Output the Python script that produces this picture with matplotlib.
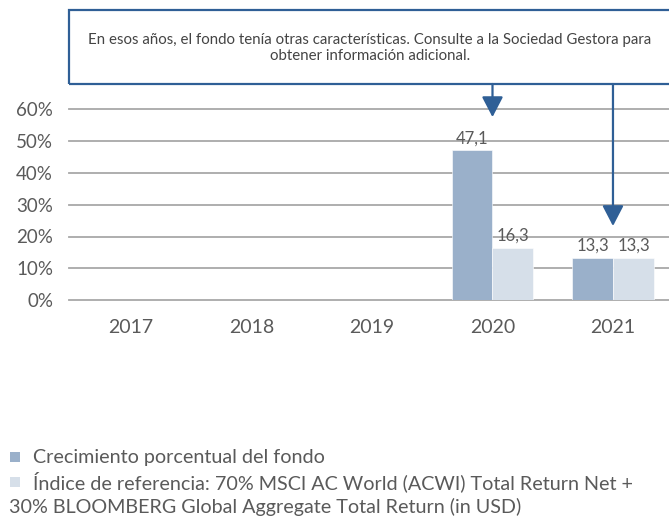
import matplotlib
matplotlib.use("Agg")
import matplotlib.pyplot as plt
from matplotlib.patches import Rectangle
import numpy as np

years = ["2017", "2018", "2019", "2020", "2021"]
fund = [np.nan, np.nan, np.nan, 47.1, 13.3]
bench = [np.nan, np.nan, np.nan, 16.3, 13.3]
yticks = [0, 10, 20, 30, 40, 50, 60]
ytick_labels = ["0%", "10%", "20%", "30%", "40%", "50%", "60%"]
fund_label = "Crecimiento porcentual del fondo"
bench_label_1 = "Índice de referencia: 70% MSCI AC World (ACWI) Total Return Net +"
bench_label_2 = "30% BLOOMBERG Global Aggregate Total Return (in USD)"
note_text = ("En esos años, el fondo tenía otras características. Consulte a la Sociedad Gestora para\n"
             "obtener información adicional.")
arrow_years = ["2020", "2021"]
arrow_tips = [57.6, 23.3]

plt.rcParams['font.family'] = ['Lato', 'DejaVu Sans']

C_FUND = "#9AB0CA"
C_BENCH = "#D6DFE9"
C_BLUE = "#2F5F96"
C_TEXT = "#5A5A5A"
C_GRID = "#A8A8A8"

W, H = 669, 520
fig = plt.figure(figsize=(W / 100, H / 100), dpi=100)
ax = fig.add_axes([69 / W, 1 - 300 / H, 600 / W, 190.5 / H])

x = np.arange(len(years))
bw = 0.34
b1 = ax.bar(x - bw / 2, fund, bw, color=C_FUND, edgecolor="white", linewidth=0.4, zorder=3)
b2 = ax.bar(x + bw / 2, bench, bw, color=C_BENCH, edgecolor="white", linewidth=0.4, zorder=3)

def fmt(v):
    return f"{v:.1f}".replace(".", ",")

for bars, vals in ((b1, fund), (b2, bench)):
    for rect, v in zip(bars, vals):
        if not np.isnan(v):
            ax.annotate(fmt(v), (rect.get_x() + rect.get_width() / 2, v),
                        xytext=(0, 3), textcoords="offset points",
                        ha="center", va="bottom", fontsize=12, color=C_TEXT,
                        zorder=5)

ax.set_xlim(-0.515, 4.465)
ax.set_ylim(0, 60)
ax.set_yticks(yticks)
ax.set_yticklabels(ytick_labels)
ax.set_xticks(x)
ax.set_xticklabels(years)
ax.tick_params(axis="y", length=0, pad=11.5, labelsize=13.5, labelcolor=C_TEXT)
ax.tick_params(axis="x", length=0, pad=14, labelsize=14, labelcolor=C_TEXT)
for s in ax.spines.values():
    s.set_visible(False)
ax.yaxis.grid(True, color=C_GRID, linewidth=1.3, zorder=1)
ax.set_axisbelow(True)
for gl in ax.get_ygridlines():
    gl.set_clip_on(False)

# Note box
box_bottom = 1 - 84 / H
box_top = 1 - 10 / H
fig.add_artist(Rectangle((69 / W, box_bottom), 1.0, box_top - box_bottom,
                         transform=fig.transFigure, fill=False,
                         edgecolor=C_BLUE, linewidth=1.6))
fig.text(370 / W, 1 - 48 / H, note_text, ha="center", va="center",
         fontsize=10.8, color="#444444", linespacing=1.1)

# Arrows
for yr, tip in zip(arrow_years, arrow_tips):
    xi = years.index(yr)
    ax.annotate("", xy=(xi, tip), xycoords="data",
                xytext=(xi, box_bottom), textcoords=("data", "figure fraction"),
                arrowprops=dict(arrowstyle="-|>,head_length=1.25,head_width=0.65",
                                color=C_BLUE, lw=1.6, shrinkA=0, shrinkB=0),
                annotation_clip=False, zorder=6)

# Legend
sq = 10
for ypix, col in ((457, C_FUND), (482, C_BENCH)):
    fig.add_artist(Rectangle((10 / W, 1 - (ypix + sq / 2) / H), sq / W, sq / H,
                             transform=fig.transFigure, facecolor=col,
                             edgecolor="none"))
fig.text(33 / W, 1 - 457 / H, fund_label, ha="left", va="center",
         fontsize=14.2, color=C_TEXT)
fig.text(33 / W, 1 - 482 / H, bench_label_1, ha="left", va="center",
         fontsize=14.2, color=C_TEXT)
fig.text(9 / W, 1 - 507 / H, bench_label_2, ha="left", va="center",
         fontsize=14.2, color=C_TEXT)

fig.savefig("out.png", dpi=100)
